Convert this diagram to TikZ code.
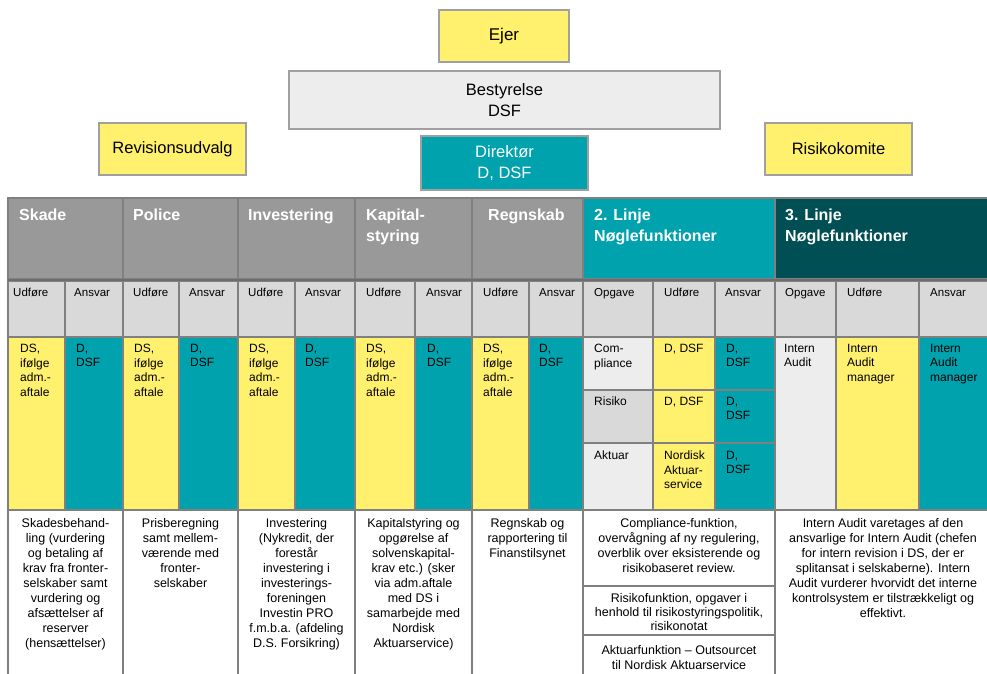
\documentclass[tikz,border=0pt]{standalone}
\usepackage{fontspec}
\setmainfont{Liberation Sans}
\definecolor{yel}{HTML}{FFF06E}
\definecolor{tealc}{HTML}{00A2AD}
\definecolor{dteal}{HTML}{004F55}
\definecolor{hgray}{HTML}{999999}
\definecolor{sgray}{HTML}{D9D9D9}
\definecolor{lgray}{HTML}{EDEDED}
\definecolor{bordc}{HTML}{808080}
\definecolor{topbord}{HTML}{A0A0A0}
\newcommand\cellrect[5]{\path[cellline,fill=#1] (#2,#3) rectangle (#4,#5);}
\begin{document}
\begin{tikzpicture}[x=1pt,y=-1pt,
  cellline/.style={draw=bordc, line width=1.5pt},
  topbox/.style={draw=topbord, line width=1.2pt, inner sep=2pt, align=center, font=\fontsize{16.5}{20.5}\selectfont},
  hdr/.style={anchor=north west, inner sep=0pt, align=left, text=white, font=\fontsize{16}{21}\selectfont\bfseries},
  sub/.style={anchor=north west, inner sep=0pt, font=\fontsize{11.5}{14}\selectfont},
  mid/.style={anchor=north west, inner sep=0pt, align=left, font=\fontsize{12}{14.5}\selectfont},
  bot/.style={anchor=north, inner sep=0pt, align=center, font=\fontsize{12.5}{15}\selectfont}]
\useasboundingbox (0,0) rectangle (987,673);
\fill[white] (0,0) rectangle (987,673);

% ---- top boxes
\node[topbox, fill=yel, minimum width=130pt, minimum height=52pt, font=\fontsize{17}{20}\selectfont] (ejer) at (504,36) {Ejer};
\node[topbox, fill=lgray, minimum width=431pt, minimum height=58pt] (best) at (504.5,100) {Bestyrelse\\DSF};
\node[topbox, fill=yel, minimum width=147pt, minimum height=52pt] (rev) at (172.5,149) {Revisionsudvalg};
\node[topbox, fill=tealc, text=white, minimum width=167pt, minimum height=54pt] (dir) at (504.5,163) {Direktør\\D, DSF};
\node[topbox, fill=yel, minimum width=147pt, minimum height=52pt] (risk) at (838.5,149) {Risikokomite};

% ---- header row
\cellrect{hgray}{8}{198}{123}{279}
\cellrect{hgray}{123}{198}{238}{279}
\cellrect{hgray}{238}{198}{355}{279}
\cellrect{hgray}{355}{198}{472}{279}
\cellrect{hgray}{472}{198}{583}{279}
\cellrect{tealc}{583}{198}{775}{279}
\cellrect{dteal}{775}{198}{992}{279}
\node[hdr] (hskade) at (19,209) {Skade};
\node[hdr] (hpolice) at (133,209) {Police};
\node[hdr] (hinv) at (248,209) {Investering};
\node[hdr] (hkap) at (366,209) {Kapital-\\styring};
\node[hdr] (hregn) at (488,209) {Regnskab};
\node[hdr] (hlin2) at (594,209) {2. Linje\\Nøglefunktioner};
\node[hdr] (hlin3) at (785,209) {3. Linje\\Nøglefunktioner};

% ---- sub header row
\foreach \a/\b in {8/65,65/123,123/179,179/238,238/295,295/355,355/415,415/472,472/529,529/583,583/653,653/715,715/775,775/836,836/919,919/992}{
  \cellrect{sgray}{\a}{281}{\b}{337}
}
\draw[draw=bordc!85!black, line width=2.5pt] (8,280) -- (992,280);
\node[sub] (s1) at (13,288) {Udføre};
\node[sub] (s2) at (74,288) {Ansvar};
\node[sub] (s3) at (133,288) {Udføre};
\node[sub] (s4) at (189,288) {Ansvar};
\node[sub] (s5) at (248,288) {Udføre};
\node[sub] (s6) at (305,288) {Ansvar};
\node[sub] (s7) at (366,288) {Udføre};
\node[sub] (s8) at (426,288) {Ansvar};
\node[sub] (s9) at (483,288) {Udføre};
\node[sub] (s10) at (539,288) {Ansvar};
\node[sub] (s11) at (594,288) {Opgave};
\node[sub] (s12) at (664,288) {Udføre};
\node[sub] (s13) at (725,288) {Ansvar};
\node[sub] (s14) at (785,288) {Opgave};
\node[sub] (s15) at (847,288) {Udføre};
\node[sub] (s16) at (930,288) {Ansvar};

% ---- middle row
\foreach \a/\b/\c in {8/65/yel,65/123/tealc,123/179/yel,179/238/tealc,238/295/yel,295/355/tealc,355/415/yel,415/472/tealc,472/529/yel,529/583/tealc}{
  \cellrect{\c}{\a}{337}{\b}{510}
}
\cellrect{lgray}{583}{337}{653}{390}
\cellrect{sgray}{583}{390}{653}{443}
\cellrect{lgray}{583}{443}{653}{510}
\cellrect{yel}{653}{337}{715}{390}
\cellrect{yel}{653}{390}{715}{443}
\cellrect{yel}{653}{443}{715}{510}
\cellrect{tealc}{715}{337}{775}{390}
\cellrect{tealc}{715}{390}{775}{443}
\cellrect{tealc}{715}{443}{775}{510}
\cellrect{lgray}{775}{337}{836}{510}
\cellrect{yel}{836}{337}{919}{510}
\cellrect{tealc}{919}{337}{992}{510}

\node[mid] (m1) at (20,344) {DS,\\ifølge\\adm.-\\aftale};
\node[mid] (m2) at (76,344) {D,\\DSF};
\node[mid] (m3) at (134,344) {DS,\\ifølge\\adm.-\\aftale};
\node[mid] (m4) at (190,344) {D,\\DSF};
\node[mid] (m5) at (249,344) {DS,\\ifølge\\adm.-\\aftale};
\node[mid] (m6) at (305,344) {D,\\DSF};
\node[mid] (m7) at (366,344) {DS,\\ifølge\\adm.-\\aftale};
\node[mid] (m8) at (427,344) {D,\\DSF};
\node[mid] (m9) at (483,344) {DS,\\ifølge\\adm.-\\aftale};
\node[mid] (m10) at (539,344) {D,\\DSF};
\node[mid] (m11) at (594,344) {Com-\\pliance};
\node[mid] (m12) at (594,397) {Risiko};
\node[mid] (m13) at (594,451) {Aktuar};
\node[mid] (m14) at (664,344) {D, DSF};
\node[mid] (m15) at (664,397) {D, DSF};
\node[mid] (m16) at (664,451) {Nordisk\\Aktuar-\\service};
\node[mid] (m17) at (726,344) {D,\\DSF};
\node[mid] (m18) at (726,397) {D,\\DSF};
\node[mid] (m19) at (726,451) {D,\\DSF};
\node[mid] (m20) at (784,344) {Intern\\Audit};
\node[mid] (m21) at (847,344) {Intern\\Audit\\manager};
\node[mid] (m22) at (930,344) {Intern\\Audit\\manager};

% ---- bottom row
\foreach \a/\b in {8/123,123/238,238/355,355/472,472/583,775/992}{
  \cellrect{white}{\a}{510}{\b}{690}
}
\cellrect{white}{583}{510}{775}{586}
\cellrect{white}{583}{586}{775}{635}
\cellrect{white}{583}{635}{775}{690}

\node[bot] (b1) at (65.5,518) {Skadesbehand-\\ling (vurdering\\og betaling af\\krav fra fronter-\\selskaber samt\\vurdering og\\afsættelser af\\reserver\\(hensættelser)};
\node[bot] (b2) at (180.5,518) {Prisberegning\\samt mellem-\\værende med\\fronter-\\selskaber};
\node[bot] (b3) at (296.5,518) {Investering\\(Nykredit, der\\forestår\\investering i\\investerings-\\foreningen\\Investin PRO\\f.m.b.a. (afdeling\\D.S. Forsikring)};
\node[bot] (b4) at (413.5,518) {Kapitalstyring og\\opgørelse af\\solvenskapital-\\krav etc.) (sker\\via adm.aftale\\med DS i\\samarbejde med\\Nordisk\\Aktuarservice)};
\node[bot] (b5) at (527.5,518) {Regnskab og\\rapportering til\\Finanstilsynet};
\node[bot] (b6) at (679,518) {Compliance-funktion,\\overvågning af ny regulering,\\overblik over eksisterende og\\risikobaseret review.};
\node[bot, font=\fontsize{12.5}{14.2}\selectfont] (b7) at (679,593) {Risikofunktion, opgaver i\\henhold til risikostyringspolitik,\\risikonotat};
\node[bot] (b8) at (679,645) {Aktuarfunktion – Outsourcet\\til Nordisk Aktuarservice};
\node[bot] (b9) at (883,518) {Intern Audit varetages af den\\ansvarlige for Intern Audit (chefen\\for intern revision i DS, der er\\splitansat i selskaberne). Intern\\Audit vurderer hvorvidt det interne\\kontrolsystem er tilstrækkeligt og\\effektivt.};
\end{tikzpicture}
\end{document}
